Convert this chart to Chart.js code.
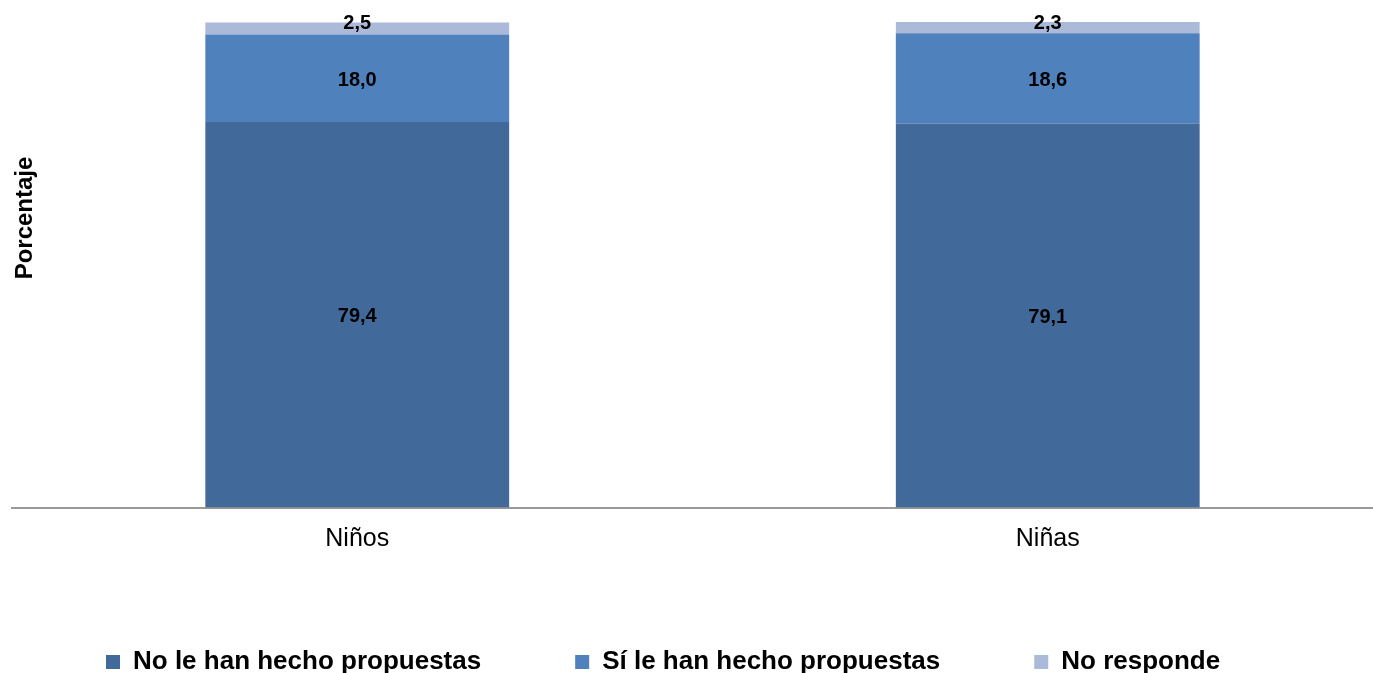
<!DOCTYPE html>
<html lang="es">
<head>
    <meta charset="utf-8" />
    <title>Propuestas por sexo</title>
    <script src="https://cdn.jsdelivr.net/npm/chart.js"></script>
    <style>
        html, body {
            margin: 0;
            padding: 0;
            overflow: hidden;
            background: #ffffff;
        }

        /* canvas a bit wider/taller than the window: the plot runs off the right edge */
        .wrap {
            width: 1393px;
            height: 701px;
        }
    </style>
</head>
<body>
    <div class="wrap">
        <canvas id="myChart" width="1393" height="701"></canvas>
    </div>
    <script>
        const categories = ['Niños', 'Niñas'];
        const seriesNames = ['No le han hecho propuestas', 'Sí le han hecho propuestas', 'No responde'];
        const noPropuestas = [79.4, 79.1];
        const siPropuestas = [18.0, 18.6];
        const noResponde = [2.5, 2.3];
        const yTitle = 'Porcentaje';

        const colors = ['#41699A', '#4F81BD', '#AABAD8'];
        const fontFamily = '"Liberation Sans", Arial, sans-serif';
        const legendGap = 94;

        // value labels in the middle of each segment
        const segmentLabels = {
            id: 'segmentLabels',
            afterDatasetsDraw(chart) {
                const ctx = chart.ctx;
                ctx.save();
                ctx.font = 'bold 20px ' + fontFamily;
                ctx.fillStyle = '#000000';
                ctx.textAlign = 'center';
                ctx.textBaseline = 'middle';
                chart.data.datasets.forEach((ds, i) => {
                    chart.getDatasetMeta(i).data.forEach((bar, j) => {
                        const p = bar.getProps(['x', 'y', 'base'], true);
                        const h = Math.abs(p.base - p.y);
                        let y = (p.y + p.base) / 2 + 2;
                        if (h < 20) y = Math.min(p.y, p.base) + 1;
                        ctx.fillText(ds.data[j].toFixed(1).replace('.', ','), p.x, y);
                    });
                });
                ctx.restore();
            }
        };

        // vertical axis title, sitting inside the plot on the left
        const axisTitle = {
            id: 'axisTitle',
            afterDraw(chart) {
                const ctx = chart.ctx;
                ctx.save();
                ctx.translate(25, 218);
                ctx.rotate(-Math.PI / 2);
                ctx.font = 'bold 24px ' + fontFamily;
                ctx.fillStyle = '#000000';
                ctx.textAlign = 'center';
                ctx.textBaseline = 'middle';
                ctx.fillText(yTitle, 0, 0);
                ctx.restore();
            }
        };

        // the legend keeps wide gaps between items but sits closer to the axis
        const legendNudge = {
            id: 'legendNudge',
            afterLayout(chart) {
                const lg = chart.legend;
                const h = lg.bottom - lg.top;
                lg.top = 662 - 13 - legendGap;
                lg.bottom = lg.top + h;
            }
        };

        const ctx = document.getElementById('myChart').getContext('2d');
        const myChart = new Chart(ctx, {
            type: 'bar',
            data: {
                labels: categories,
                datasets: [
                    { label: seriesNames[0], data: noPropuestas, backgroundColor: colors[0] },
                    { label: seriesNames[1], data: siPropuestas, backgroundColor: colors[1] },
                    { label: seriesNames[2], data: noResponde, backgroundColor: colors[2] }
                ]
            },
            options: {
                responsive: false,
                animation: false,
                devicePixelRatio: 1,
                layout: {
                    padding: { left: 12, top: 22, right: 0, bottom: 0 }
                },
                datasets: {
                    bar: {
                        barPercentage: 0.44,
                        categoryPercentage: 1,
                        borderWidth: 0
                    }
                },
                plugins: {
                    title: { display: false },
                    tooltip: { enabled: false },
                    legend: {
                        position: 'bottom',
                        align: 'start',
                        labels: {
                            boxWidth: 14,
                            boxHeight: 14,
                            padding: legendGap,
                            color: '#000000',
                            font: { family: fontFamily, size: 26, weight: 'bold' }
                        }
                    }
                },
                scales: {
                    x: {
                        stacked: true,
                        grid: { display: false, drawTicks: false },
                        border: { display: true, color: '#999999', width: 2 },
                        ticks: {
                            padding: 28,
                            color: '#000000',
                            font: { family: fontFamily, size: 25, lineHeight: 0.3 }
                        }
                    },
                    y: {
                        stacked: true,
                        display: false,
                        min: 0,
                        max: 100
                    }
                }
            },
            plugins: [segmentLabels, axisTitle, legendNudge]
        });
    </script>
</body>
</html>
